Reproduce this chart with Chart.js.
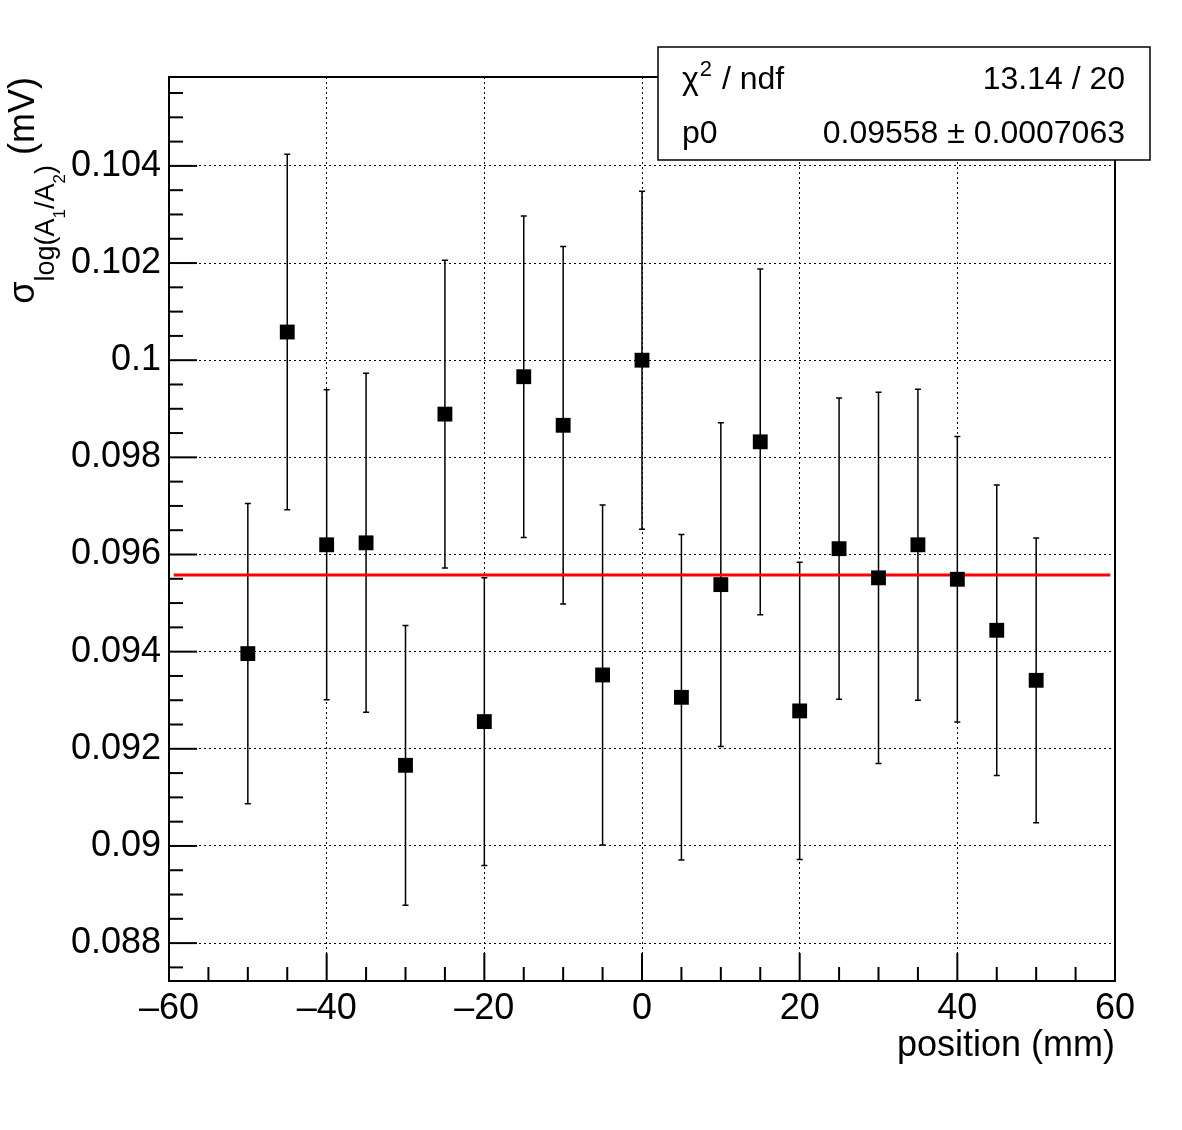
<!DOCTYPE html>
<html>
<head>
<meta charset="utf-8">
<script src="https://cdn.jsdelivr.net/npm/chart.js@4.4.0/dist/chart.umd.min.js"></script>
<style>
  html, body { margin: 0; padding: 0; background: #fff; }
  canvas { display: block; }
</style>
</head>
<body>
<canvas id="sigmaChart" width="1182" height="1130"></canvas>
<script>
// --- Dados ---
const positions = [-50, -45, -40, -35, -30, -25, -20, -15, -10, -5, 0, 5, 10, 15, 20, 25, 30, 35, 40, 45, 50];
const sigmaValues = [0.09396, 0.10058, 0.09620, 0.09624, 0.09166, 0.09889, 0.09256, 0.09966, 0.09866, 0.09352, 0.10000,
  0.09306, 0.09538, 0.09832, 0.09278, 0.09612, 0.09552, 0.09620, 0.09549, 0.09444, 0.09341];
const sigmaErrors = [0.00309, 0.00366, 0.00319, 0.00349, 0.00288, 0.00317, 0.00296, 0.00331, 0.00368, 0.00350, 0.00348,
  0.00335, 0.00333, 0.00356, 0.00306, 0.00310, 0.00382, 0.00320, 0.00294, 0.00299, 0.00293];

// ajuste constante (pol0)
const fitP0 = 0.09558;
const fitRange = [-59.4, 59.4];

// caixa de estatísticas
const statsNames = ["χ2 / ndf", "p0"];
const statsValues = ["13.14 / 20", "0.09558 \u00b1 0.0007063"];

const xTitle = "position (mm)";
const FONT = "'Liberation Sans', Arial, Helvetica, sans-serif";

// Barras de erro + ticks internos (estilo ROOT)
const rootStyle = {
  id: "rootStyle",
  beforeDatasetsDraw(chart) {
    const { ctx, scales } = chart;
    const x = scales.x, y = scales.y;
    ctx.save();
    ctx.strokeStyle = "#000";
    ctx.lineWidth = 1.5;
    positions.forEach((p, i) => {
      const px = x.getPixelForValue(p);
      const yTop = y.getPixelForValue(sigmaValues[i] + sigmaErrors[i]);
      const yBot = y.getPixelForValue(sigmaValues[i] - sigmaErrors[i]);
      ctx.beginPath();
      ctx.moveTo(px, yTop); ctx.lineTo(px, yBot);
      ctx.moveTo(px - 3, yTop); ctx.lineTo(px + 3, yTop);
      ctx.moveTo(px - 3, yBot); ctx.lineTo(px + 3, yBot);
      ctx.stroke();
    });
    ctx.restore();
  },
  afterDraw(chart) {
    const { ctx, chartArea: a, scales } = chart;
    const x = scales.x, y = scales.y;
    ctx.save();
    ctx.strokeStyle = "#000";
    ctx.lineWidth = 2;
    // ticks do eixo x (maiores a cada 20, menores a cada 5)
    for (let v = -60; v <= 60; v += 5) {
      const px = x.getPixelForValue(v);
      const len = v % 20 === 0 ? 28 : 14;
      ctx.beginPath(); ctx.moveTo(px, a.bottom); ctx.lineTo(px, a.bottom - len); ctx.stroke();
    }
    // ticks do eixo y (maiores a cada 0.002, menores a cada 0.0005)
    for (let k = 0; k <= 40; k++) {
      const v = 0.086 + k * 0.0005;
      if (v < y.min || v > y.max) continue;
      const py = y.getPixelForValue(v);
      const len = k % 4 === 0 ? 28 : 14;
      ctx.beginPath(); ctx.moveTo(a.left, py); ctx.lineTo(a.left + len, py); ctx.stroke();
    }
    // moldura
    ctx.strokeRect(a.left, a.top, a.right - a.left, a.bottom - a.top);

    // título do eixo x
    ctx.fillStyle = "#000";
    ctx.font = "36px " + FONT;
    ctx.textAlign = "right";
    ctx.textBaseline = "alphabetic";
    ctx.fillText(xTitle, a.right, 1056);

    // título do eixo y: σ_{log(A_{1}/A_{2})} (mV)
    const parts = [
      { t: "σ", size: 36, shift: 0 },
      { t: "log(A", size: 27, shift: 20 },
      { t: "1", size: 17, shift: 31 },
      { t: "/A", size: 27, shift: 20 },
      { t: "2", size: 17, shift: 31 },
      { t: ")", size: 27, shift: 20 },
      { t: " (mV)", size: 36, shift: 0 },
    ];
    let total = 0;
    parts.forEach((p) => { ctx.font = p.size + "px " + FONT; p.w = ctx.measureText(p.t).width; total += p.w; });
    ctx.translate(34, a.top);
    ctx.rotate(-Math.PI / 2);
    ctx.textAlign = "left";
    let cx = -total;
    parts.forEach((p) => {
      ctx.font = p.size + "px " + FONT;
      ctx.fillText(p.t, cx, p.shift);
      cx += p.w;
    });
    ctx.setTransform(1, 0, 0, 1, 0, 0);

    // caixa de estatísticas
    const bx = 658, by = 47, bw = 492, bh = 113;
    ctx.fillStyle = "#fff";
    ctx.fillRect(bx, by, bw, bh);
    ctx.lineWidth = 1.5;
    ctx.strokeRect(bx, by, bw, bh);
    ctx.fillStyle = "#000";
    ctx.font = "32px " + FONT;
    // χ² com sobrescrito
    ctx.textAlign = "left";
    ctx.fillText("χ", 682, 89);
    const wChi = ctx.measureText("χ").width;
    ctx.font = "22px " + FONT;
    ctx.fillText("2", 682 + wChi + 1, 76);
    const w2 = ctx.measureText("2").width;
    ctx.font = "32px " + FONT;
    ctx.fillText(statsNames[0].slice(2), 682 + wChi + w2 + 2, 89);
    ctx.fillText(statsNames[1], 682, 143);
    ctx.textAlign = "right";
    ctx.fillText(statsValues[0], 1125, 89);
    ctx.fillText(statsValues[1], 1125, 143);
    ctx.restore();
  },
};

document.addEventListener("DOMContentLoaded", function () {
  const ctx = document.getElementById("sigmaChart").getContext("2d");

  new Chart(ctx, {
    type: "scatter",
    data: {
      datasets: [
        {
          label: "sigma",
          data: positions.map((p, i) => ({ x: p, y: sigmaValues[i] })),
          pointStyle: "rect",
          pointRadius: 10.5,
          pointHoverRadius: 10.5,
          backgroundColor: "#000",
          borderWidth: 0,
        },
        {
          type: "line",
          label: "pol0",
          data: [{ x: fitRange[0], y: fitP0 }, { x: fitRange[1], y: fitP0 }],
          borderColor: "#ff0000",
          borderWidth: 3,
          pointRadius: 0,
          fill: false,
        },
      ],
    },
    options: {
      responsive: false,
      animation: false,
      devicePixelRatio: 1,
      layout: { padding: { top: 77, right: 67, left: 0, bottom: 0 } },
      plugins: { legend: { display: false }, tooltip: { enabled: false } },
      scales: {
        x: {
          type: "linear",
          min: -60,
          max: 60,
          afterFit: (s) => { s.height = 149; },
          ticks: {
            stepSize: 20,
            color: "#000",
            padding: 6,
            maxRotation: 0,
            font: { family: FONT, size: 36 },
            callback: (v) => (v < 0 ? "\u2013" + Math.abs(v) : String(v)),
          },
          grid: { color: "#000", lineWidth: 1, drawTicks: false },
          border: { display: false, dash: [2, 3] },
        },
        y: {
          min: 0.08722,
          max: 0.10583,
          afterFit: (s) => { s.width = 169; },
          ticks: {
            stepSize: 0.002,
            includeBounds: false,
            color: "#000",
            padding: 8,
            font: { family: FONT, size: 36 },
            callback: (v) => String(+v.toFixed(3)),
          },
          grid: { color: "#000", lineWidth: 1, drawTicks: false },
          border: { display: false, dash: [2, 3] },
        },
      },
    },
    plugins: [rootStyle],
  });
});
</script>
</body>
</html>
